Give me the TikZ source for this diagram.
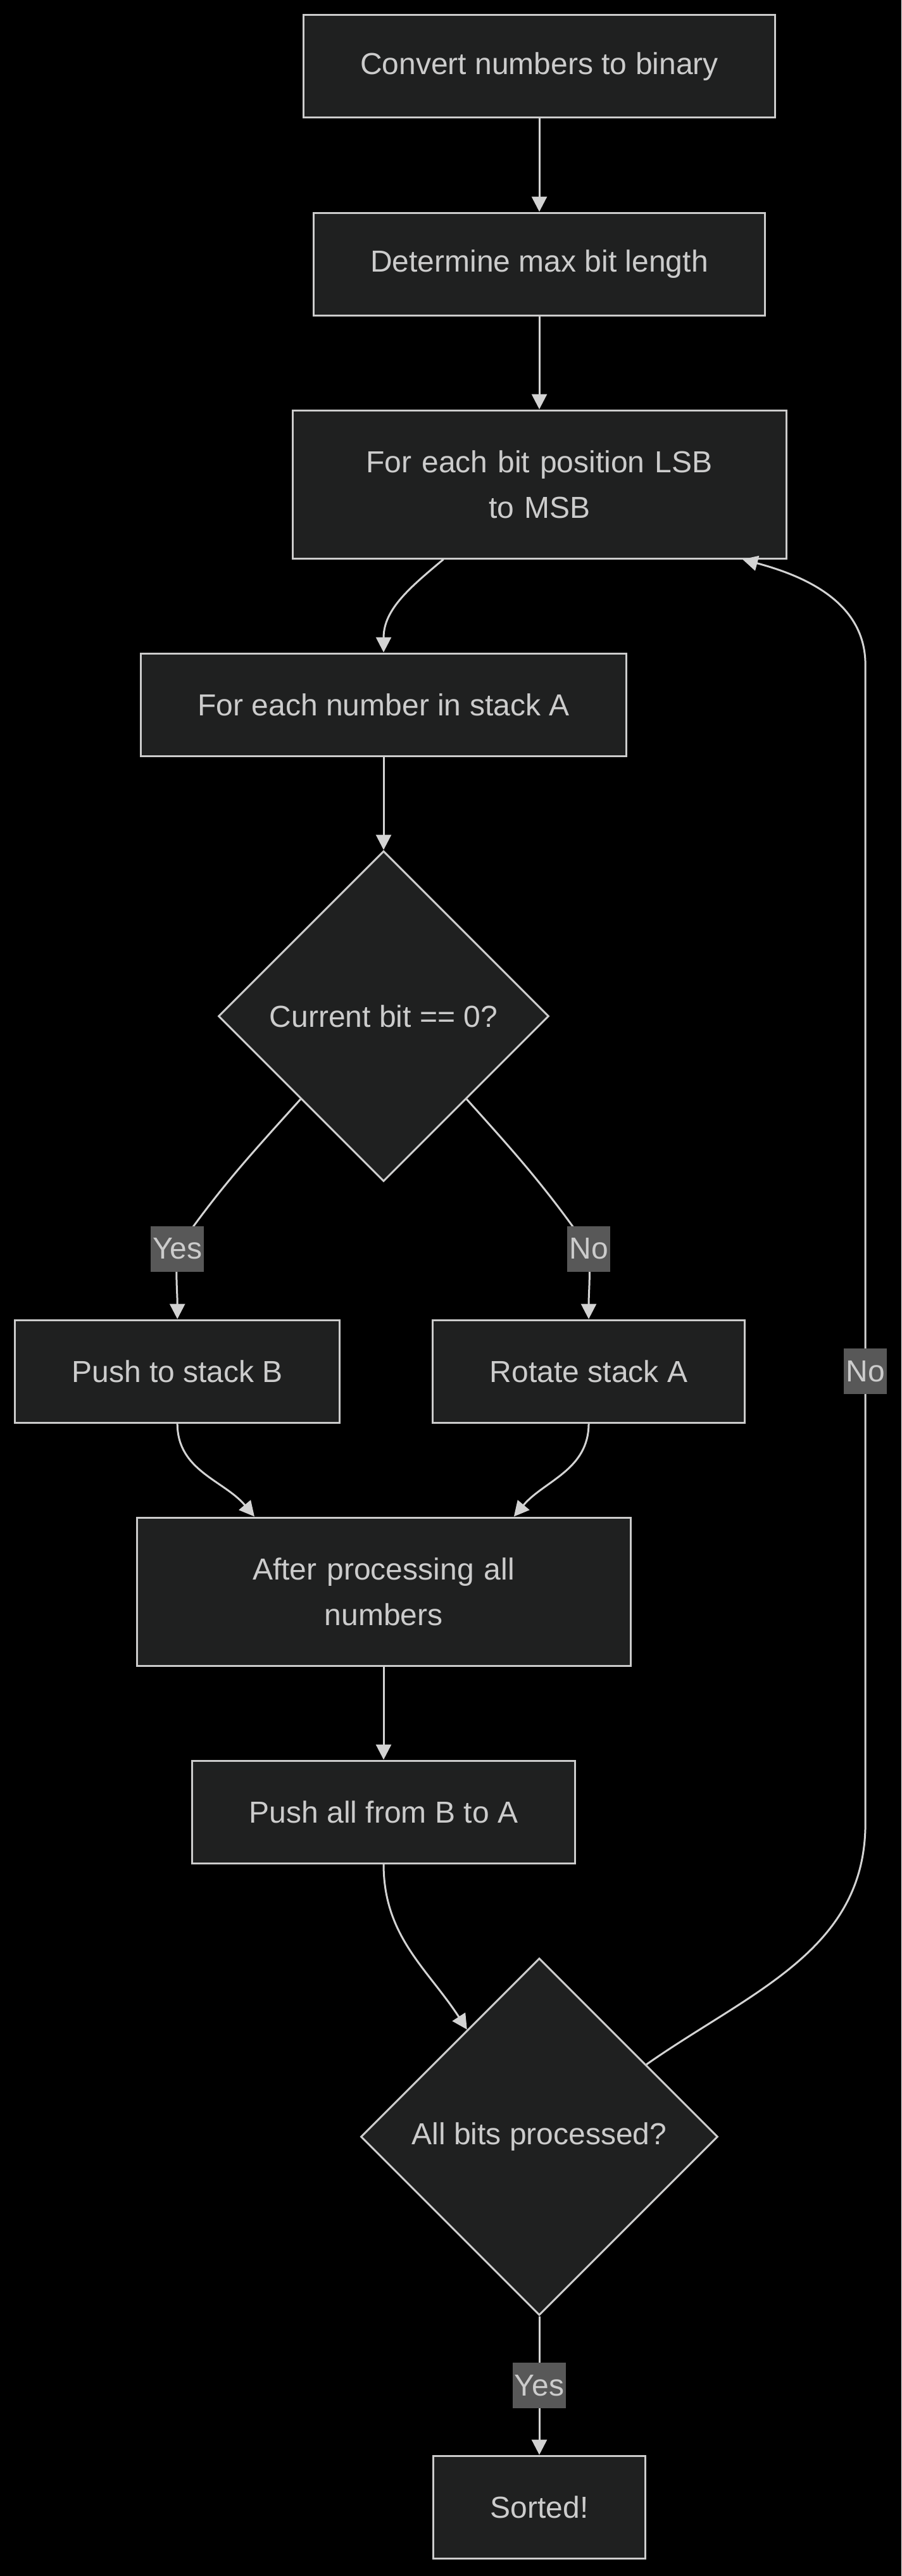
\documentclass[tikz,border=0pt]{standalone}
\usepackage{fontspec}
\setmainfont{Liberation Sans}
\usepackage{tikz}
\usetikzlibrary{positioning, arrows.meta, shapes.geometric}
\definecolor{nodefill}{HTML}{1F2020}
\definecolor{nodeline}{HTML}{CCCCCC}
\definecolor{edgeline}{HTML}{D3D3D3}
\definecolor{labelfill}{HTML}{585858}
\tikzstyle{line} = [draw=edgeline, line width=1pt, -{Triangle[length=8pt, width=8pt]}]
\tikzstyle{block} = [rectangle, draw=nodeline, fill=nodefill, text=nodeline, line width=1pt,
    inner xsep=30pt, minimum height=54pt, font=\fontsize{16}{24}\selectfont]
\tikzstyle{tallblock} = [block, text width=200pt, align=center, minimum height=78pt]
\tikzstyle{decision} = [diamond, aspect=1, draw=nodeline, fill=nodefill, text=nodeline,
    line width=1pt, inner sep=0pt, font=\fontsize{16}{24}\selectfont]
\tikzstyle{answer} = [fill=labelfill, text=nodeline, inner xsep=1pt, inner ysep=0pt,
    minimum height=24pt, font=\fontsize{16}{24}\selectfont]

\begin{document}
\begin{tikzpicture}[x=1pt, y=1pt, node distance=104pt]
      % Background and margins
      \fill[black] (0,0) rectangle (474.7,-1356.3);
      \useasboundingbox (0,0) rectangle (474.7,-1356.3);
      % Place setup nodes
      \node [block] (convert) at (284,-35) {Convert numbers to binary};
      \node [block, below of=convert, node distance=104pt] (maxbits) {Determine max bit length};
      \node [tallblock, below of=maxbits, node distance=116pt] (bitpos) {For each bit position LSB\\to MSB};
      % Place inner loop nodes
      \node [block, below of=bitpos, node distance=116pt, xshift=-82pt] (eachnum) {For each number in stack A};
      \node [decision, minimum size=174pt, below of=eachnum, node distance=164pt] (bitzero) {Current bit == 0?};
      \node [block, below of=bitzero, node distance=187pt, xshift=-108.6pt] (pushb) {Push to stack B};
      \node [block, right of=pushb, node distance=216.6pt] (rotate) {Rotate stack A};
      \node [tallblock, below of=bitzero, node distance=303pt] (after) {After processing all\\numbers};
      % Place outer loop nodes
      \node [block, below of=after, node distance=116pt] (pushall) {Push all from B to A};
      \node [decision, minimum size=188pt, below of=pushall, node distance=171pt, xshift=82pt] (alldone) {All bits processed?};
      \node [block, below of=alldone, node distance=195pt] (sorted) {Sorted!};
      \coordinate (loopbot) at (455.7,-960);
      \coordinate (looptop) at (455.7,-350);
      % Draw edges
      \path [line] (convert) -- (maxbits);
      \path [line] (maxbits) -- (bitpos);
      \path [line] ([xshift=-50.5pt]bitpos.south) to[out=-140, in=90] (eachnum.north);
      \path [line] (eachnum) -- (bitzero);
      % Draw decision edges
      \path [line] (bitzero.south west) to[out=-132, in=55] ([yshift=37pt]pushb.north) node[answer] {Yes}
            to[out=-94, in=90] (pushb.north);
      \path [line] (bitzero.south east) to[out=-48, in=125] ([yshift=37pt]rotate.north) node[answer] {No}
            to[out=-86, in=90] (rotate.north);
      % Draw merge edges
      \path [line] (pushb.south) to[out=-90, in=130] ([xshift=-68pt]after.north);
      \path [line] (rotate.south) to[out=-90, in=50] ([xshift=68.6pt]after.north);
      \path [line] (after) -- (pushall);
      \path [line] (pushall.south) to[out=-90, in=123] (alldone.124);
      % Draw outer loop edges
      \path [line] (alldone.34) to[out=35, in=-90] (loopbot) -- node[answer, pos=0.39] {No} (looptop)
            to[out=90, in=-15] ([xshift=107pt]bitpos.south);
      \path [line] (alldone) -- node[answer] {Yes} (sorted);
  \end{tikzpicture}
\end{document}
